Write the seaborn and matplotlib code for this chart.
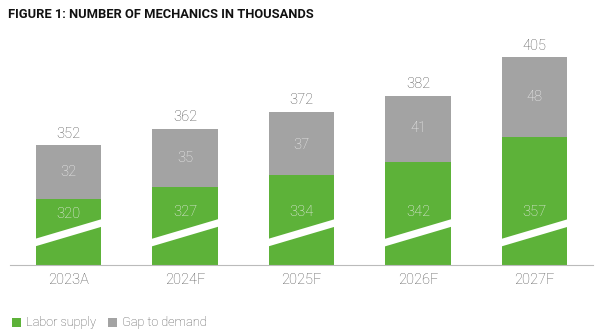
import matplotlib
matplotlib.use("Agg")
import matplotlib.pyplot as plt
import matplotlib.transforms as mtransforms
from matplotlib.patches import Polygon, Rectangle
import pandas as pd
import seaborn as sns

# Chart data (thousands of mechanics)
years = ["2023A", "2024F", "2025F", "2026F", "2027F"]
labor_supply = [320, 327, 334, 342, 357]
gap_to_demand = [32, 35, 37, 41, 48]
totals = [352, 362, 372, 382, 405]

GREEN = "#5DB239"
GREY = "#A3A3A3"
TEXT = "#555555"

sns.set_theme(style="white")
plt.rcParams["font.family"] = ["Roboto", "DejaVu Sans"]

df = pd.DataFrame({"year": years, "supply": labor_supply,
                   "gap": gap_to_demand, "total": totals})

fig = plt.figure(figsize=(6.0, 3.36), dpi=100)
ax = fig.add_axes([10 / 600, 71 / 336, 583 / 600, 230 / 336])

bar_w = 0.56
sns.barplot(data=df, x="year", y="total", color=GREY, width=bar_w,
            saturation=1, linewidth=0, ax=ax, zorder=2)
sns.barplot(data=df, x="year", y="supply", color=GREEN, width=bar_w,
            saturation=1, linewidth=0, ax=ax, zorder=3)

y_min, y_max = 280, 418.5
ax.set_ylim(y_min, y_max)
ax.set_xlim(-0.5, 4.5)

# axis-break slashes across each bar (x in data, y in axes fraction)
blend = mtransforms.blended_transform_factory(ax.transData, ax.transAxes)
yc, slope, thick, half = 0.140, 0.150, 0.033, 0.315
for i in range(len(years)):
    xl, xr = i - half, i + half
    yl, yr = yc - slope * half, yc + slope * half
    poly = Polygon([(xl, yl - thick / 2), (xr, yr - thick / 2),
                    (xr, yr + thick / 2), (xl, yl + thick / 2)],
                   closed=True, facecolor="white", edgecolor="none",
                   transform=blend, zorder=5)
    ax.add_patch(poly)

# slash top in data units, used to place the supply labels above the break
brk = y_min + (yc + thick / 2) * (y_max - y_min)

for i, (s, g, t) in enumerate(zip(labor_supply, gap_to_demand, totals)):
    ax.text(i, s + g / 2, f"{g}", ha="center", va="center",
            color="#EEEEEE", fontsize=10.5, fontweight="light", zorder=6)
    ys = min((s + brk) / 2, brk + 10)
    ax.text(i, ys, f"{s}", ha="center", va="center",
            color="#EEEEEE", fontsize=10.5, fontweight="light", zorder=6)
    ax.annotate(f"{t}", (i, t), xytext=(0, 3.5), textcoords="offset points",
                ha="center", va="bottom", color=TEXT, fontsize=10.5,
                fontweight="light")

ax.set_xlabel("")
ax.set_ylabel("")
ax.set_yticks([])
ax.tick_params(axis="x", length=0, pad=6, labelsize=10.5, labelcolor=TEXT)
for lbl in ax.get_xticklabels():
    lbl.set_fontweight("light")
for side in ["top", "right", "left"]:
    ax.spines[side].set_visible(False)
ax.spines["bottom"].set_color("#BBBBBB")
ax.spines["bottom"].set_linewidth(0.8)
ax.spines["bottom"].set_zorder(7)

fig.text(8 / 600, 1 - 15 / 336, "FIGURE 1: NUMBER OF MECHANICS IN THOUSANDS",
         ha="left", va="center", fontsize=9.3, fontweight="bold", color="#111111")

# legend row
ly = 1 - 322.5 / 336
sq_w, sq_h = 9 / 600, 9 / 336
for x0, col, lab in [(12, GREEN, "Labor supply"), (108, GREY, "Gap to demand")]:
    fig.patches.append(Rectangle((x0 / 600, ly - sq_h / 2), sq_w, sq_h,
                                 transform=fig.transFigure, facecolor=col,
                                 edgecolor="none"))
    fig.text((x0 + 14) / 600, ly, lab, ha="left", va="center",
             fontsize=9.2, fontweight="light", color=TEXT)

fig.savefig("out.png", dpi=100)
